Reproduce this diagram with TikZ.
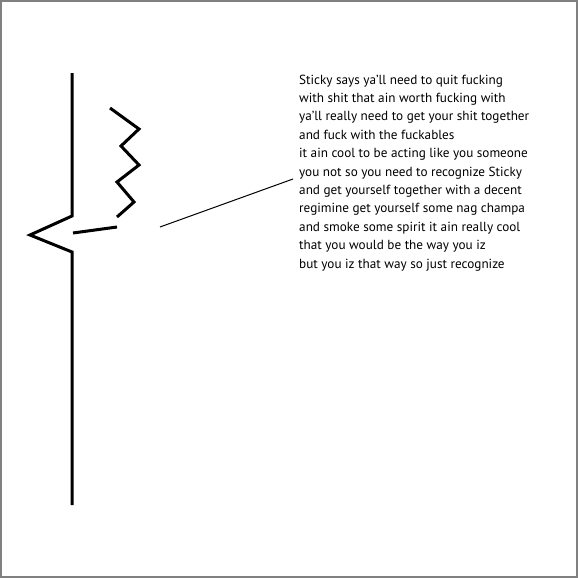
\documentclass[tikz,border=0pt]{standalone}
\usepackage{fontspec}
\setmainfont{PT Sans}
\begin{document}
\begin{tikzpicture}[x=1pt,y=-1pt,
  thick stroke/.style={line width=3pt, line join=miter},
  thin stroke/.style={line width=1pt},
  frame/.style={draw=black!50, line width=2pt}]
\useasboundingbox (0,0) rectangle (578,578);
\draw[frame] (1,1) rectangle (577,577);
% body line
\coordinate (top) at (72,73);
\coordinate (kneeA) at (72,216);
\coordinate (tip) at (30,235);
\coordinate (kneeB) at (72,252);
\coordinate (bottom) at (72,505);
\draw[thick stroke] (top) -- (kneeA) -- (tip) -- (kneeB) -- (bottom);
% zigzag
\coordinate (z1) at (110,108);
\coordinate (z2) at (139,129);
\coordinate (z3) at (121,146);
\coordinate (z4) at (139,165);
\coordinate (z5) at (117,182);
\coordinate (z6) at (134,202);
\coordinate (z7) at (117,217);
\draw[thick stroke] (z1) -- (z2) -- (z3) -- (z4) -- (z5) -- (z6) -- (z7);
% short stroke
\coordinate (s1) at (73,233);
\coordinate (s2) at (117,227);
\draw[thick stroke] (s1) -- (s2);
% pointer
\coordinate (p1) at (160,227);
\coordinate (p2) at (293,179);
\draw[thin stroke] (p1) -- (p2);
% text
\node[anchor=base west, inner sep=0pt, align=left,
  font=\fontsize{13.2}{18.4}\selectfont] (txt) at (299,268)
{Sticky says ya’ll need to quit fucking\\
with shit that ain worth fucking with\\
ya’ll really need to get your shit together\\
and fuck with the fuckables\\
it ain cool to be acting like you someone\\
you not so you need to recognize Sticky\\
and get yourself together with a decent\\
regimine get yourself some nag champa\\
and smoke some spirit it ain really cool\\
that you would be the way you iz\\
but you iz that way so just recognize};
\end{tikzpicture}
\end{document}
